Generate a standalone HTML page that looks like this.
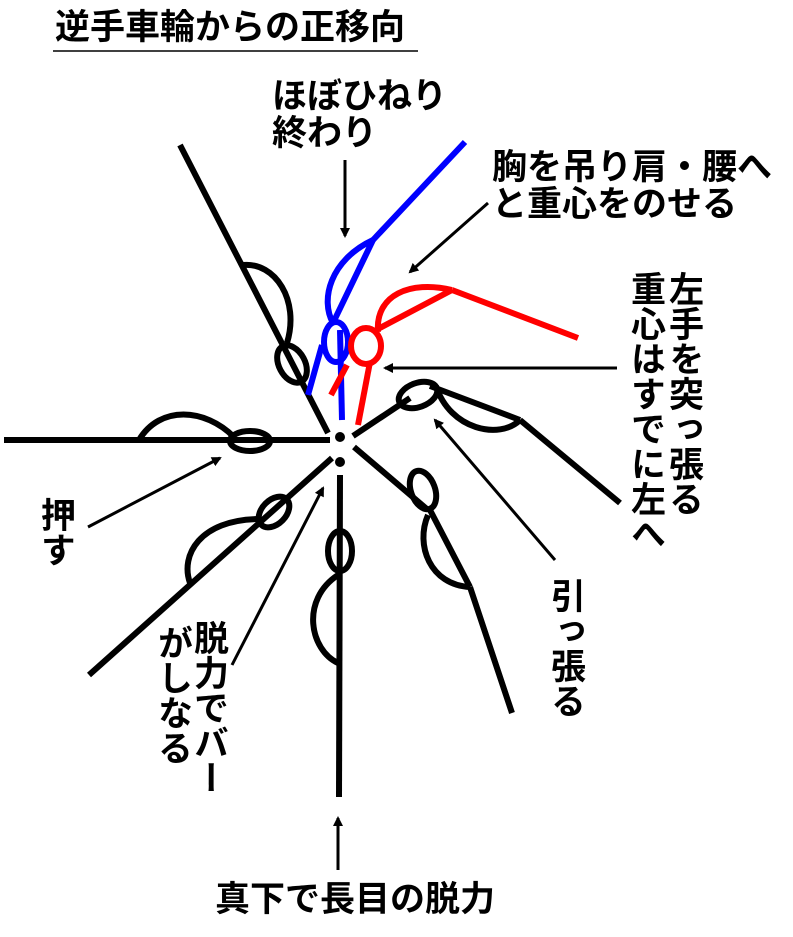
<!DOCTYPE html>
<html><head><meta charset="utf-8"><style>
html,body{margin:0;padding:0;background:#fff;}
body{width:793px;height:937px;position:relative;overflow:hidden;font-family:"Liberation Sans","Noto Sans CJK JP",sans-serif;color:#000;}
.t{position:absolute;font-size:35px;line-height:37px;white-space:nowrap;font-weight:bold;}
.v{writing-mode:vertical-rl;line-height:36px;}
svg{position:absolute;left:0;top:0;}
</style></head><body>
<svg width="793" height="937" viewBox="0 0 793 937">
<defs>
<marker id="ah" markerWidth="10" markerHeight="10" refX="8" refY="5" orient="auto" markerUnits="userSpaceOnUse">
<path d="M0,0 L10,5 L0,10 Z" fill="#000"/></marker>
</defs>
<line x1="53" y1="51" x2="418" y2="51" stroke="#000" stroke-width="1.5"/>
<g fill="none" stroke="#000" stroke-width="6" stroke-linecap="butt">
<line x1="180" y1="145" x2="328" y2="433"/>
<path d="M243,265 C275,262 300,300 287,343"/>
<ellipse cx="292" cy="364" rx="13" ry="20" transform="rotate(-28 292 364)"/>
<line x1="4" y1="440" x2="330" y2="440"/>
<path d="M139,440 C160,405 205,408 234,437"/>
<ellipse cx="250" cy="441" rx="20" ry="10"/>
<line x1="332" y1="458" x2="89" y2="675"/>
<ellipse cx="274" cy="512" rx="18" ry="12" transform="rotate(-45 274 512)"/>
<path d="M258,519 C200,520 180,555 190,583"/>
<line x1="340" y1="475" x2="339" y2="797"/>
<ellipse cx="340" cy="551" rx="12" ry="20"/>
<path d="M338,575 C300,600 310,650 338,663"/>
<line x1="354" y1="447" x2="428" y2="510"/>
<ellipse cx="423" cy="490" rx="12" ry="20" transform="rotate(-20 423 490)"/>
<line x1="430" y1="510" x2="470" y2="587"/>
<line x1="470" y1="587" x2="512" y2="713"/>
<path d="M428,515 C415,545 430,585 470,587"/>
<line x1="353" y1="436" x2="410" y2="398"/>
<ellipse cx="418" cy="395" rx="20" ry="12" transform="rotate(-20 418 395)"/>
<line x1="430" y1="386" x2="520" y2="420"/>
<line x1="520" y1="420" x2="620" y2="503"/>
<path d="M436,386 C450,430 500,440 520,420"/>
</g>
<g fill="none" stroke="#0000ff" stroke-width="6">
<line x1="465" y1="142" x2="373" y2="240"/>
<line x1="373" y1="240" x2="333" y2="323"/>
<path d="M373,240 C330,260 320,300 333,323"/>
<ellipse cx="336" cy="342" rx="12" ry="20"/>
<line x1="322" y1="345" x2="308" y2="395"/>
<line x1="340" y1="330" x2="342" y2="420"/>
</g>
<g fill="none" stroke="#ff0000" stroke-width="6">
<line x1="578" y1="338" x2="452" y2="290"/>
<line x1="452" y1="290" x2="376" y2="330"/>
<path d="M452,290 C410,280 375,295 378,332"/>
<ellipse cx="366" cy="346" rx="15" ry="18"/>
<line x1="347" y1="365" x2="331" y2="395"/>
<line x1="370" y1="362" x2="358" y2="425"/>
</g>
<circle cx="340" cy="437" r="5" fill="#000"/>
<circle cx="340" cy="462" r="5" fill="#000"/>
<g stroke="#000" stroke-width="3" marker-end="url(#ah)">
<line x1="345" y1="160" x2="345" y2="236"/>
<line x1="488" y1="203" x2="410" y2="272"/>
<line x1="617" y1="368" x2="385" y2="368"/>
<line x1="555" y1="560" x2="435" y2="420"/>
<line x1="88" y1="527" x2="220" y2="458"/>
<line x1="232" y1="665" x2="323" y2="488"/>
<line x1="338" y1="870" x2="338" y2="818"/>
</g>
</svg>
<div class="t" style="left:55px;top:9px;">逆手車輪からの正移向</div>
<div class="t" style="left:272px;top:78px;">ほぼひねり<br>終わり</div>
<div class="t" style="left:492px;top:149px;">胸を吊り肩・腰へ<br>と重心をのせる</div>
<div class="t v" style="left:665px;top:271px;">左手を突っ張る</div>
<div class="t v" style="left:627px;top:271px;">重心はすでに左へ</div>
<div class="t v" style="left:547px;top:578px;">引っ張る</div>
<div class="t v" style="left:37px;top:497px;">押す</div>
<div class="t v" style="left:190px;top:620px;">脱力でバー</div>
<div class="t v" style="left:154px;top:625px;">がしなる</div>
<div class="t" style="left:215px;top:881px;">真下で長目の脱力</div>
</body></html>
